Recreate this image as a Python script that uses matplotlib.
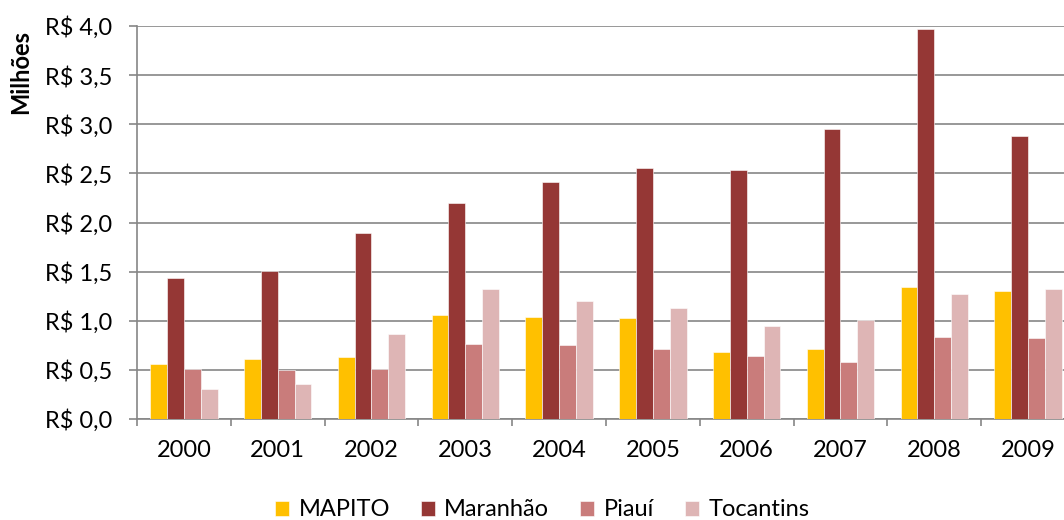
import matplotlib
matplotlib.use("Agg")
import matplotlib.pyplot as plt
import matplotlib.ticker as ticker
import numpy as np

plt.rcParams['font.family'] = ['Lato', 'DejaVu Sans']

anos = ['2000', '2001', '2002', '2003', '2004', '2005', '2006', '2007', '2008', '2009']
mapito = [0.556, 0.607, 0.631, 1.062, 1.035, 1.031, 0.685, 0.709, 1.347, 1.30]
maranhao = [1.438, 1.506, 1.896, 2.195, 2.412, 2.558, 2.534, 2.952, 3.969, 2.884]
piaui = [0.509, 0.495, 0.512, 0.767, 0.75, 0.709, 0.638, 0.577, 0.835, 0.828]
tocantins = [0.305, 0.353, 0.862, 1.323, 1.201, 1.127, 0.947, 1.004, 1.275, 1.326]

series = [('MAPITO', mapito, '#FFC000'),
          ('Maranhão', maranhao, '#953735'),
          ('Piauí', piaui, '#C97C7B'),
          ('Tocantins', tocantins, '#DEB5B5')]

fig = plt.figure(figsize=(10.64, 5.2), dpi=100)
# axis runs a bit past the right edge, as in the original
ax = fig.add_axes([137/1064, 1 - 419/520, 938/1064, 393/520])

x = np.arange(len(anos))
w = 0.18
for i, (nome, vals, cor) in enumerate(series):
    ax.bar(x + (i - 1.5) * w, vals, w, color=cor, label=nome,
           edgecolor='white', linewidth=0.4, zorder=3)

grey = '#868686'
ax.set_xlim(-0.5, len(anos) - 0.5)
ax.set_ylim(0, 4.0)
ax.yaxis.set_major_locator(ticker.MultipleLocator(0.5))
ax.yaxis.set_major_formatter(ticker.FuncFormatter(
    lambda v, _: r'R\$ ' + '{:.1f}'.format(v).replace('.', ',')))
ax.grid(axis='y', color=grey, linewidth=1.2, zorder=0)

ax.set_xticks(x)
ax.set_xticklabels(anos)
ax.set_xticks(np.arange(-0.5, len(anos)), minor=True)
ax.tick_params(axis='x', which='major', length=0, pad=15, labelsize=17)
ax.tick_params(axis='x', which='minor', length=5, width=1.2, color=grey)
ax.tick_params(axis='y', length=6, width=1.2, color=grey, pad=12, labelsize=17)

for s in ['top', 'right']:
    ax.spines[s].set_visible(False)
for s in ['left', 'bottom']:
    ax.spines[s].set_color(grey)
    ax.spines[s].set_linewidth(1.2)

fig.text(21/1064, 1 - 72/520, 'Milhões', rotation=90, ha='center', va='center',
         fontsize=17, fontweight='bold')

fig.legend(loc='center', bbox_to_anchor=(542/1064, 1 - 510/520), ncol=4,
           frameon=False, fontsize=17, handlelength=0.6, handleheight=0.6,
           handletextpad=0.4, columnspacing=1.3)

fig.savefig('out.png', dpi=100)
